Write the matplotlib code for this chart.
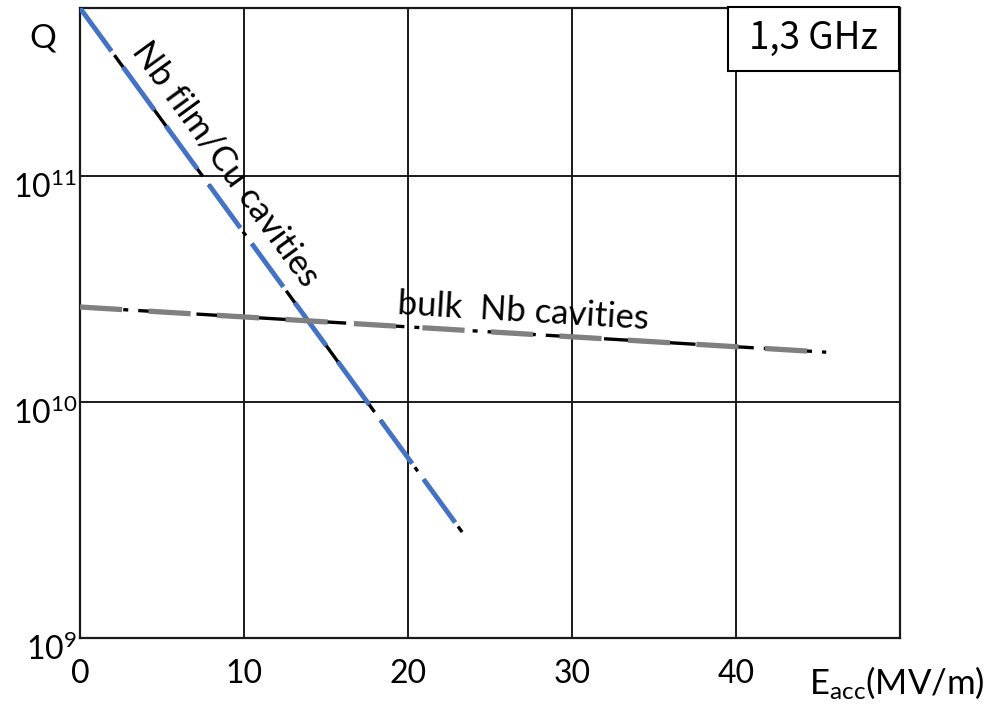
import numpy as np
import matplotlib
matplotlib.use('Agg')
import matplotlib.pyplot as plt
from matplotlib.patches import Rectangle
from matplotlib.transforms import ScaledTranslation

plt.rcParams['font.family'] = ['Lato', 'DejaVu Sans']
plt.rcParams['mathtext.fontset'] = 'custom'
plt.rcParams['mathtext.rm'] = 'Lato'
plt.rcParams['mathtext.it'] = 'Lato:italic'

# --- data ---
e_ticks = [0, 10, 20, 30, 40, 50]
e_labels = ['0', '10', '20', '30', '40', '']
q_ticks = [1e9, 1e10, 1e11]
q_labels = ['$10^{9}$', '$10^{10}$', '$10^{11}$']

film_e = [0.0, 23.3]          # Nb film/Cu cavities
film_q = [5.53e11, 2.81e9]
bulk_e = [0.0, 45.5]          # bulk Nb cavities
bulk_q = [2.63e10, 1.66e10]

q_top = 5.53e11

# hand drawn decades are not quite equal -> piecewise log scale
dec = [9, 10, 11, 12]
pix = [0, 236, 462, 688]

def fwd(v):
    v = np.clip(np.asarray(v, dtype=float), 1e-30, None)
    return np.interp(np.log10(v), dec, pix)

def inv(p):
    return 10 ** np.interp(p, pix, dec)

fig = plt.figure(figsize=(9.9, 7.05), dpi=100)
ax = fig.add_axes([80/990, 1 - 638/705, 820/990, 630/705])
ax.set_yscale('function', functions=(fwd, inv))
ax.set_xlim(0, 50)
ax.set_ylim(1e9, q_top)

ax.set_xticks(e_ticks)
ax.set_xticklabels(e_labels)
ax.set_yticks(q_ticks)
ax.set_yticklabels(q_labels)
ax.yaxis.set_minor_locator(matplotlib.ticker.NullLocator())
ax.tick_params(length=0, labelsize=23)
ax.tick_params(axis='x', pad=15)
ax.tick_params(axis='y', pad=2)
for lab in ax.get_yticklabels():
    lab.set_transform(lab.get_transform() + ScaledTranslation(0, -0.09, fig.dpi_scale_trans))

ax.grid(True, color='#1a1a1a', lw=1.4)
for s in ax.spines.values():
    s.set_color('#1a1a1a')
    s.set_linewidth(1.6)

# film line: black dash-dot under blue dashes
ax.plot(film_e, film_q, color='black', lw=2.4, dashes=(10, 3, 1.5, 3), zorder=3)
ax.plot(film_e, film_q, color='#4472c4', lw=3.5, dashes=(11, 4), zorder=4,
        dash_capstyle='butt')

# bulk line: black dash-dot under grey dashes
ax.plot(bulk_e, bulk_q, color='black', lw=2.4, dashes=(10, 3, 1.5, 3), zorder=3)
ax.plot(bulk_e, bulk_q, color='#808080', lw=3.8, dashes=(8, 5), zorder=4,
        dash_capstyle='butt')

ax.text(8.9, 1.13e11, 'Nb film/Cu cavities', rotation=-53.9, rotation_mode='anchor',
        ha='center', va='center', fontsize=25, zorder=5)
ax.text(27.0, 2.52e10, 'bulk  Nb cavities', rotation=-3.45, rotation_mode='anchor',
        ha='center', va='center', fontsize=25, zorder=5)

# frequency box
ax.add_patch(Rectangle((0.790, 0.9), 0.209, 0.1016, transform=ax.transAxes,
                       facecolor='white', edgecolor='black', lw=1.5, clip_on=False, zorder=6))
ax.text(0.8945, 0.951, '1,3 GHz', transform=ax.transAxes, ha='center', va='center',
        fontsize=26.5, family=['Noto Sans CJK JP', 'DejaVu Sans'], zorder=7)

fig.text(43/990, 1 - 38/705, 'Q', ha='center', va='center', fontsize=24)
fig.text(897/990, 1 - 683/705, r'$\mathregular{E_{acc}}$(MV/m)', ha='center', va='center', fontsize=25)

plt.savefig('out.png', dpi=100)
